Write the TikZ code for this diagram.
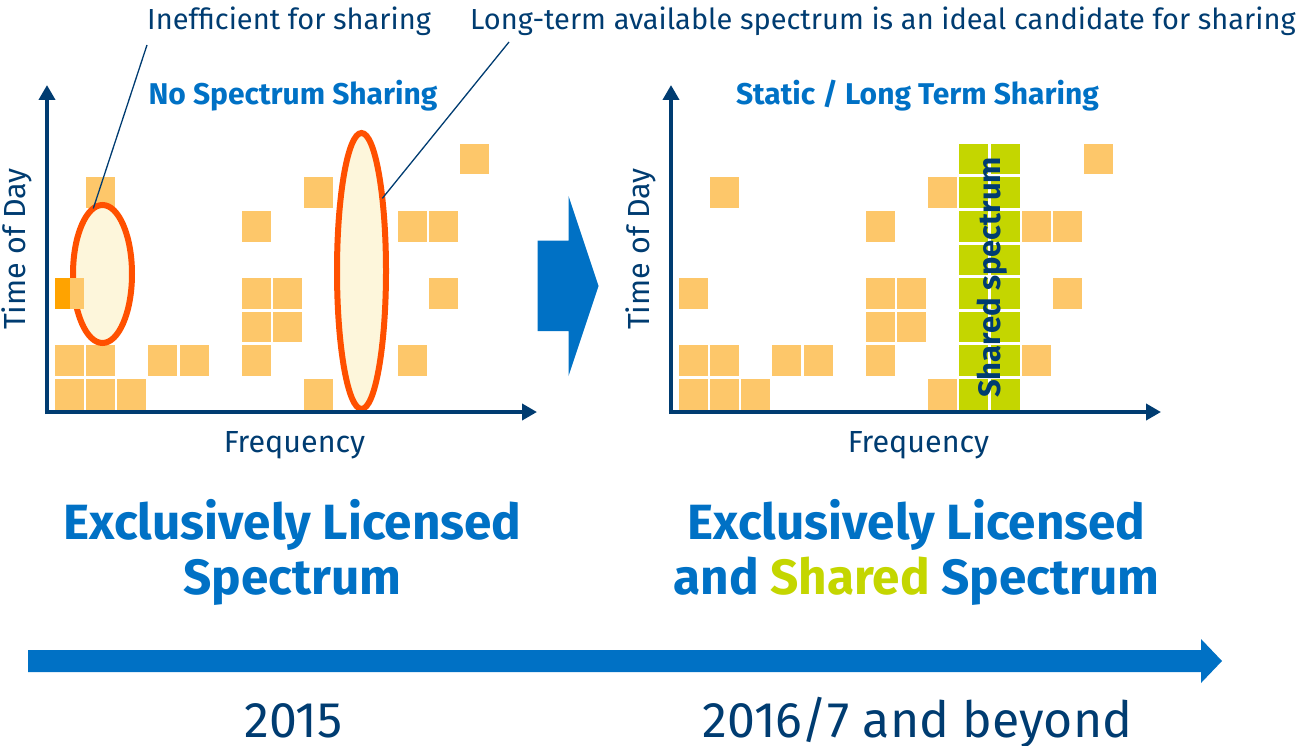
\documentclass[tikz,border=0pt]{standalone}
\usepackage{fontspec}
\setmainfont{Fira Sans}
\usetikzlibrary{arrows.meta,shapes.geometric}

\definecolor{inknavy}{RGB}{0,60,113}
\definecolor{intelblue}{RGB}{0,113,197}
\definecolor{cellorange}{RGB}{253,199,106}
\definecolor{hotorange}{RGB}{255,163,0}
\definecolor{ringred}{RGB}{255,80,0}
\definecolor{cream}{RGB}{253,246,219}
\definecolor{lime}{RGB}{196,214,0}

% one grid cell: origin x, column, row (0 = bottom), fill colour
\newcommand\gridcell[4]{\fill[#4] ({#1+31.15*#2},{379-33.6*#3}) rectangle ++(29,30.5);}

\tikzset{
  annot/.style={font=\fontsize{29}{34}\selectfont, text=inknavy, inner sep=0},
  paneltitle/.style={font=\bfseries\fontsize{30}{34}\selectfont, text=intelblue, inner sep=0},
  axislabel/.style={font=\fontsize{30.5}{34}\selectfont, text=inknavy, inner sep=0},
  bigtitle/.style={font=\bfseries\fontsize{49.5}{56}\selectfont, text=intelblue, inner sep=0},
  yearlabel/.style={font=\fontsize{50}{56}\selectfont, text=inknavy, inner sep=0},
  sharedlabel/.style={font=\bfseries\fontsize{31}{36}\selectfont, text=inknavy, inner sep=0},
  axisline/.style={draw=inknavy, line width=4.5pt, -{Triangle[length=15pt,width=16pt]}},
  leader/.style={draw=inknavy, line width=1.3pt},
  ring/.style={ellipse, draw=ringred, fill=cream, line width=6pt, inner sep=0, outer sep=0},
  bluearrow/.style={fill=intelblue},
}

\begin{document}
\begin{tikzpicture}[x=1pt, y=-1pt]
\useasboundingbox (0,0) rectangle (1297,746);

% ---------- occupied spectrum cells, same pattern in both panels ----------
\foreach \px in {55,679}{
  \foreach \c/\r in {0/0,1/0,2/0,8/0, 0/1,1/1,3/1,4/1,6/1,11/1,
                     6/2,7/2, 6/3,7/3,12/3, 6/5,11/5,12/5, 1/6,8/6, 13/7}
    {\gridcell{\px}{\c}{\r}{cellorange}}
}
\gridcell{55}{0}{3}{hotorange}
\gridcell{679}{0}{3}{cellorange}

% shared band in the right panel
\foreach \r in {0,...,7}{
  \gridcell{679}{9}{\r}{lime}
  \gridcell{679}{10}{\r}{lime}
}

% ---------- highlighted gaps in the left panel ----------
\node[ring, minimum width=59pt, minimum height=138pt] (small) at (102.5,274) {};
\node[ring, minimum width=49pt, minimum height=276pt] (big) at (361.5,271) {};
\fill[cellorange] (69.5,278.2) rectangle (84,308.7);

% ---------- axes ----------
\coordinate (oL) at (47,412);
\coordinate (oR) at (671,412);
\coordinate (yL) at (47,85);
\coordinate (yR) at (671,85);
\coordinate (xL) at (537,412);
\coordinate (xR) at (1161,412);
\draw[axisline] ([yshift=-2.2pt]oL) -- (yL);
\draw[axisline] ([xshift=-2.2pt]oL) -- (xL);
\draw[axisline] ([yshift=-2.2pt]oR) -- (yR);
\draw[axisline] ([xshift=-2.2pt]oR) -- (xR);

% ---------- callouts ----------
\node[annot, anchor=base west] (ineff) at (147,30) {Inefficient for sharing};
\node[annot, anchor=base west] (ideal) at (470,30) {Long-term available spectrum is an ideal candidate for sharing};
\coordinate (ineffFoot) at (147,45);
\coordinate (idealFoot) at (509,42);
\draw[leader] (ineffFoot) -- (small.98);
\draw[leader] (idealFoot) -- (big.74);

% ---------- panel titles and axis labels ----------
\node[paneltitle, anchor=base] (tL) at (293,105) {No Spectrum Sharing};
\node[paneltitle, anchor=base] (tR) at (917.5,105) {Static / Long Term Sharing};
\node[axislabel, anchor=base, rotate=90] (tdL) at (25,249) {Time of Day};
\node[axislabel, anchor=base, rotate=90] (tdR) at (649,249) {Time of Day};
\node[axislabel, anchor=base] (fL) at (294.5,452) {Frequency};
\node[axislabel, anchor=base] (fR) at (918.5,452) {Frequency};
\node[sharedlabel, anchor=base, rotate=90] (sh) at (1000,277.5) {Shared spectrum};

% ---------- transition arrow ----------
\fill[bluearrow] (537.5,240.5) -- (568.5,240.5) -- (568.5,196) -- (598.5,286)
  -- (568.5,376) -- (568.5,331) -- (537.5,331) -- cycle;

% ---------- regime captions ----------
\node[bigtitle, anchor=base] (c1a) at (292.5,539) {Exclusively Licensed};
\node[bigtitle, anchor=base] (c1b) at (292.5,594) {Spectrum};
\node[bigtitle, anchor=base] (c2a) at (916.5,539) {Exclusively Licensed};
\node[bigtitle, anchor=base] (c2b) at (916.5,594) {and \textcolor{lime}{Shared} Spectrum};

% ---------- timeline ----------
\fill[bluearrow] (28,650) -- (1201,650) -- (1201,639) -- (1222,661)
  -- (1201,683) -- (1201,672) -- (28,672) -- cycle;
\node[yearlabel, anchor=base] (y1) at (293.5,737) {2015};
\node[yearlabel, anchor=base] (y2) at (917.5,737) {2016/7 and beyond};
\end{tikzpicture}
\end{document}
